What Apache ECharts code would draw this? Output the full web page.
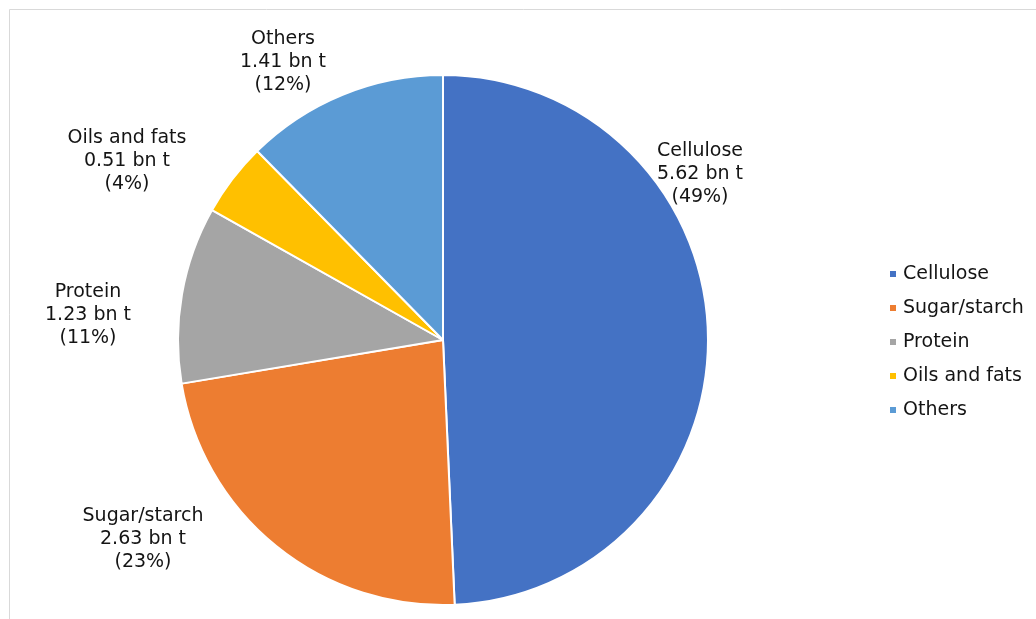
<!DOCTYPE html>
<html>
<head>
<meta charset="utf-8">
<script src="https://cdn.jsdelivr.net/npm/echarts@6/dist/echarts.min.js"></script>
<style>
  html, body { margin: 0; padding: 0; background: #fff; }
  #chart { width: 1036px; height: 619px; }
</style>
</head>
<body>
<div id="chart"></div>
<script>
// Global biomass production by component (billion tonnes)
const categories = ['Cellulose', 'Sugar/starch', 'Protein', 'Oils and fats', 'Others'];
const values = [5.62, 2.63, 1.23, 0.51, 1.41];
const colors = ['#4472C4', '#ED7D31', '#A5A5A5', '#FFC000', '#5B9BD5'];

// Label anchor points (centre of each three-line label block)
const labelAnchors = [
  [700, 174],
  [143, 539],
  [88, 315],
  [127, 161],
  [283, 62]
];

const chart = echarts.init(document.getElementById('chart'));

chart.setOption({
  backgroundColor: '#fff',
  animation: false,
  graphic: [{
    type: 'rect',
    shape: { x: 9.5, y: 9.5, width: 1100, height: 700 },
    style: { fill: 'none', stroke: '#d9d9d9', lineWidth: 1 },
    silent: true
  }],
  legend: {
    orient: 'vertical',
    left: 883,
    top: 259,
    itemWidth: 8,
    itemHeight: 8,
    itemGap: 14,
    icon: 'rect',
    data: categories,
    textStyle: {
      fontFamily: 'DejaVu Sans',
      fontSize: 19,
      lineHeight: 20,
      color: '#141414',
      padding: [0, 0, 0, 1]
    }
  },
  series: [{
    type: 'pie',
    center: [443, 340],
    radius: [0, 265],
    startAngle: 90,
    clockwise: true,
    color: colors,
    itemStyle: { borderColor: '#fff', borderWidth: 2 },
    labelLine: { show: false },
    label: {
      show: true,
      position: 'outside',
      fontFamily: 'DejaVu Sans',
      fontSize: 19,
      lineHeight: 23,
      color: '#141414',
      align: 'center',
      formatter: function (p) {
        return p.name + '\n' + p.value.toFixed(2) + ' bn t\n(' + Math.round(p.percent) + '%)';
      }
    },
    labelLayout: function (params) {
      const a = labelAnchors[params.dataIndex];
      return { x: a[0], y: a[1], align: 'center', verticalAlign: 'middle' };
    },
    data: categories.map(function (name, i) {
      return { name: name, value: values[i] };
    })
  }]
});
</script>
</body>
</html>
